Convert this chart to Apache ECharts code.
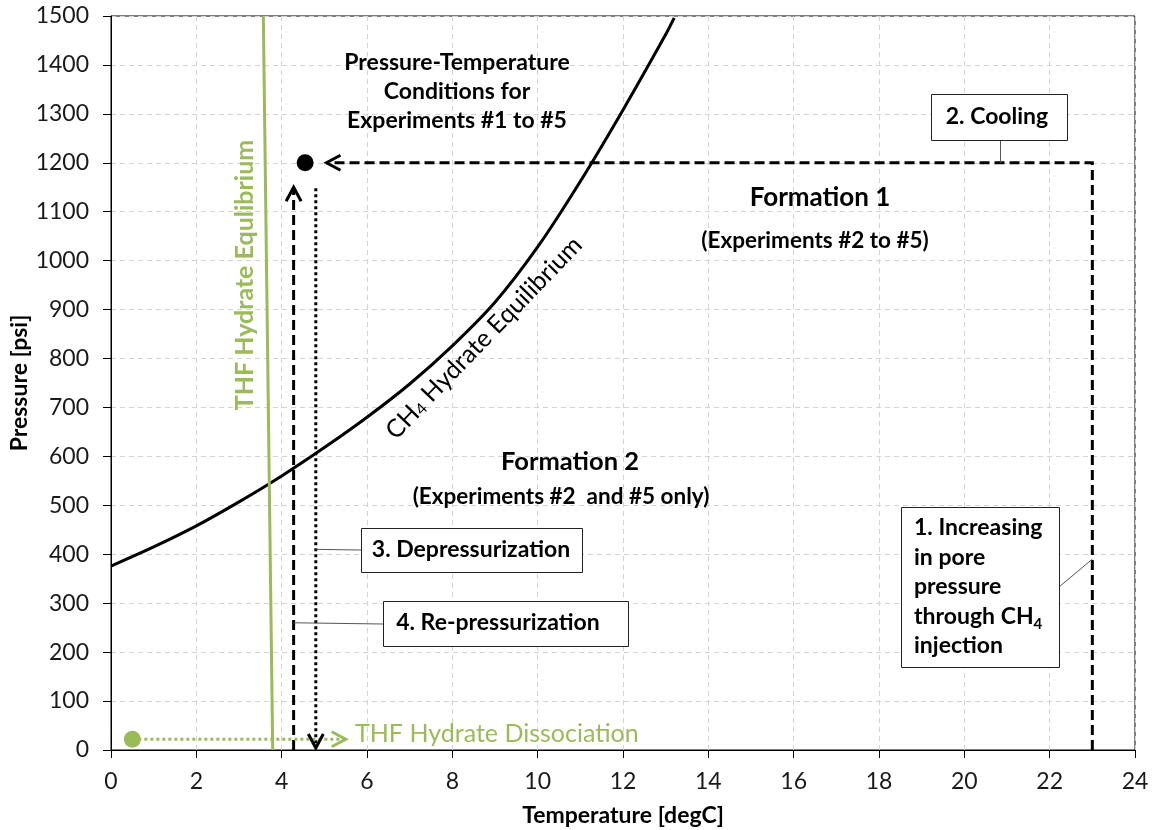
<!DOCTYPE html>
<html>
<head>
<meta charset="utf-8">
<script src="https://cdn.jsdelivr.net/npm/echarts@6/dist/echarts.min.js"></script>
<style>
  html, body { margin: 0; padding: 0; background: #ffffff; }
  #chart { width: 1152px; height: 830px; }
</style>
</head>
<body>
<div id="chart"></div>
<script>
// ---- Data: temperature in degC, pressure in psi ----
// CH4 hydrate equilibrium curve
const ch4Temp = [0, 1, 2, 3, 4, 5, 6, 7, 8, 9, 10, 11, 12, 13, 13.2];
const ch4Pres = [376, 415, 458, 507, 560, 618, 680, 748, 826, 915, 1028, 1162, 1308, 1462, 1496];
// THF hydrate equilibrium line
const thfTemp = [3.79, 3.57];
const thfPres = [0, 1500];
// Step 1 (CH4 injection at 23 degC) followed by step 2 (cooling at 1200 psi)
const injCoolTemp = [23, 23, 5.05];
const injCoolPres = [0, 1200, 1200];
// Step 3: depressurization
const depressTemp = [4.8, 4.8];
const depressPres = [1148, 4];
// Step 4: re-pressurization
const repressTemp = [4.28, 4.28];
const repressPres = [0, 1150];
// THF hydrate dissociation path
const thfDissTemp = [0.5, 5.5];
const thfDissPres = [22, 22];
// Start points
const expPoint = [4.55, 1200];
const thfPoint = [0.5, 22];

const GREEN = '#9BBB59';
const FONT = 'Lato, "Open Sans", sans-serif';

const zip = (xs, ys) => xs.map((x, i) => [x, ys[i]]);

// Open chevron arrow head drawn at a data point; dir is the screen direction it points to
function chevron(name, tip, dir, color) {
  return {
    type: 'custom',
    name: name,
    coordinateSystem: 'cartesian2d',
    silent: true,
    z: 6,
    data: [tip],
    renderItem: function (params, api) {
      const p = api.coord([api.value(0), api.value(1)]);
      const L = 14, W = 7.5;
      const bx = p[0] - dir[0] * L, by = p[1] - dir[1] * L;
      const nx = -dir[1], ny = dir[0];
      return {
        type: 'polyline',
        shape: { points: [[bx + nx * W, by + ny * W], [p[0], p[1]], [bx - nx * W, by - ny * W]] },
        style: { stroke: color, lineWidth: 3, fill: null, lineJoin: 'miter' }
      };
    }
  };
}

const chart = echarts.init(document.getElementById('chart'), null, { renderer: 'canvas' });

const option = {
  animation: false,
  backgroundColor: '#ffffff',
  textStyle: { fontFamily: FONT },
  grid: {
    left: 111, right: 17, top: 16, bottom: 80,
    outerBoundsMode: 'none', containLabel: false,
    show: true, borderColor: '#000000', borderWidth: 1, backgroundColor: 'transparent'
  },
  xAxis: {
    type: 'value', min: 0, max: 24, interval: 2,
    name: 'Temperature [degC]', nameLocation: 'middle', nameGap: 54, nameMoveOverlap: false,
    nameTextStyle: { fontFamily: FONT, fontSize: 23, fontWeight: 'bold', color: '#000' },
    axisLine: { show: true, onZero: false, lineStyle: { color: '#000', width: 1 } },
    axisTick: { show: true, length: 8, lineStyle: { color: '#000', width: 1 } },
    axisLabel: { fontFamily: FONT, fontSize: 23, color: '#1a1a1a', margin: 20 },
    splitLine: { show: true, lineStyle: { type: [5, 4], color: '#d4d4d4', width: 1 } }
  },
  yAxis: {
    type: 'value', min: 0, max: 1500, interval: 100,
    name: 'Pressure [psi]', nameLocation: 'middle', nameGap: 80, nameMoveOverlap: false,
    nameTextStyle: { fontFamily: FONT, fontSize: 23, fontWeight: 'bold', color: '#000' },
    axisLine: { show: true, lineStyle: { color: '#000', width: 1 } },
    axisTick: { show: true, length: 8, lineStyle: { color: '#000', width: 1 } },
    axisLabel: { fontFamily: FONT, fontSize: 23, color: '#1a1a1a', margin: 22, formatter: (v) => String(v) },
    splitLine: { show: true, lineStyle: { type: [5, 4], color: '#d4d4d4', width: 1 } }
  },
  series: [
    {
      name: 'CH4 Hydrate Equilibrium', type: 'line', smooth: 0.35, showSymbol: false,
      data: zip(ch4Temp, ch4Pres), lineStyle: { color: '#000', width: 3 }, z: 3
    },
    {
      name: 'THF Hydrate Equilibrium', type: 'line', showSymbol: false,
      data: zip(thfTemp, thfPres), lineStyle: { color: GREEN, width: 3 }, z: 3
    },
    {
      name: 'Injection and cooling', type: 'line', showSymbol: false,
      data: zip(injCoolTemp, injCoolPres),
      lineStyle: { color: '#000', width: 3, type: [10, 5], join: 'miter' }, z: 4
    },
    {
      name: 'Depressurization', type: 'line', showSymbol: false,
      data: zip(depressTemp, depressPres),
      lineStyle: { color: '#000', width: 3, type: [3, 3] }, z: 4
    },
    {
      name: 'Re-pressurization', type: 'line', showSymbol: false,
      data: zip(repressTemp, repressPres),
      lineStyle: { color: '#000', width: 3, type: [10, 5] }, z: 4
    },
    {
      name: 'THF Hydrate Dissociation', type: 'line', showSymbol: false,
      data: zip(thfDissTemp, thfDissPres),
      lineStyle: { color: GREEN, width: 3, type: [3, 3] }, z: 4
    },
    chevron('cooling arrow', [injCoolTemp[2], injCoolPres[2]], [-1, 0], '#000'),
    chevron('depressurization arrow', [depressTemp[1], depressPres[1]], [0, 1], '#000'),
    chevron('re-pressurization arrow', [repressTemp[1], repressPres[1]], [0, -1], '#000'),
    chevron('dissociation arrow', [thfDissTemp[1], thfDissPres[1]], [1, 0], GREEN),
    {
      name: 'Experiment start', type: 'scatter', symbol: 'circle', symbolSize: 17,
      data: [expPoint], itemStyle: { color: '#000', opacity: 1 }, z: 7
    },
    {
      name: 'THF start', type: 'scatter', symbol: 'circle', symbolSize: 17,
      data: [thfPoint], itemStyle: { color: GREEN, opacity: 1 }, z: 7
    }
  ]
};

chart.setOption(option);

// ---- Annotations ----
const toPx = (pt) => chart.convertToPixel({ gridIndex: 0 }, pt);

function label(x, y, text, opts) {
  return Object.assign({
    type: 'text', x: x, y: y, z: 20,
    style: Object.assign({
      text: text, fill: '#000', align: 'center', verticalAlign: 'middle',
      fontFamily: FONT, fontSize: 23, fontWeight: 'bold'
    }, opts && opts.style)
  }, opts && opts.el);
}
function box(x, y, w, h) {
  return {
    type: 'rect', z: 18, shape: { x: x + 0.5, y: y + 0.5, width: w, height: h },
    style: { fill: '#ffffff', stroke: '#222', lineWidth: 1 }
  };
}
function connector(p1, p2) {
  return {
    type: 'line', z: 17, shape: { x1: p1[0], y1: p1[1], x2: p2[0], y2: p2[1] },
    style: { stroke: '#555', lineWidth: 1 }
  };
}

const anchorCooling = [1000.5, toPx([20, 1200])[1]];
const anchorInject = toPx([23, 390]);
const anchorDepress = toPx([4.8, 410]);
const anchorRepress = toPx([4.28, 260]);

chart.setOption({
  graphic: [
    // region and curve labels
    label(457, 92, 'Pressure-Temperature\nConditions for\nExperiments #1 to #5', { style: { lineHeight: 29 } }),
    label(245, 275, 'THF Hydrate Equlibrium', { style: { fill: GREEN, fontSize: 25 }, el: { rotation: Math.PI / 2 } }),
    {
      type: 'text', x: 484, y: 338, z: 20, rotation: 46 * Math.PI / 180,
      style: {
        text: '{n|CH}{s|4}{n| Hydrate Equilibrium}', align: 'center', verticalAlign: 'middle',
        rich: {
          n: { fontFamily: FONT, fontSize: 25, fill: '#000' },
          s: { fontFamily: FONT, fontSize: 16, fill: '#000', verticalAlign: 'bottom' }
        }
      }
    },
    label(820, 198, 'Formation 1', { style: { fontSize: 26 } }),
    label(815, 241, '(Experiments #2 to #5)', { style: { fontSize: 22.5 } }),
    label(570, 462, 'Formation 2', { style: { fontSize: 25.5 } }),
    label(561, 497, '(Experiments #2  and #5 only)', { style: { fontSize: 22.5 } }),
    label(355, 734, 'THF Hydrate Dissociation', { style: { fill: GREEN, fontSize: 25, fontWeight: 'normal', align: 'left' } }),

    // step callouts
    connector([1000.5, 140], anchorCooling),
    box(931, 94, 136, 46),
    label(997, 117, '2. Cooling'),

    connector(anchorDepress, [361, 550]),
    box(361, 528, 221, 44),
    label(471, 550, '3. Depressurization'),

    connector(anchorRepress, [383, 624]),
    box(383, 601, 245, 45),
    label(498, 623, '4. Re-pressurization'),

    connector([1059, 587], anchorInject),
    box(901, 507, 158, 160),
    {
      type: 'text', x: 914, y: 587, z: 20,
      style: {
        text: '{b|1. Increasing}\n{b|in pore}\n{b|pressure}\n{b|through CH}{s|4}\n{b|injection}',
        align: 'left', verticalAlign: 'middle',
        rich: {
          b: { fontFamily: FONT, fontSize: 23, fontWeight: 'bold', fill: '#000', lineHeight: 29.5 },
          s: { fontFamily: FONT, fontSize: 15, fontWeight: 'bold', fill: '#000', lineHeight: 29.5, verticalAlign: 'bottom' }
        }
      }
    }
  ]
});
</script>
</body>
</html>
